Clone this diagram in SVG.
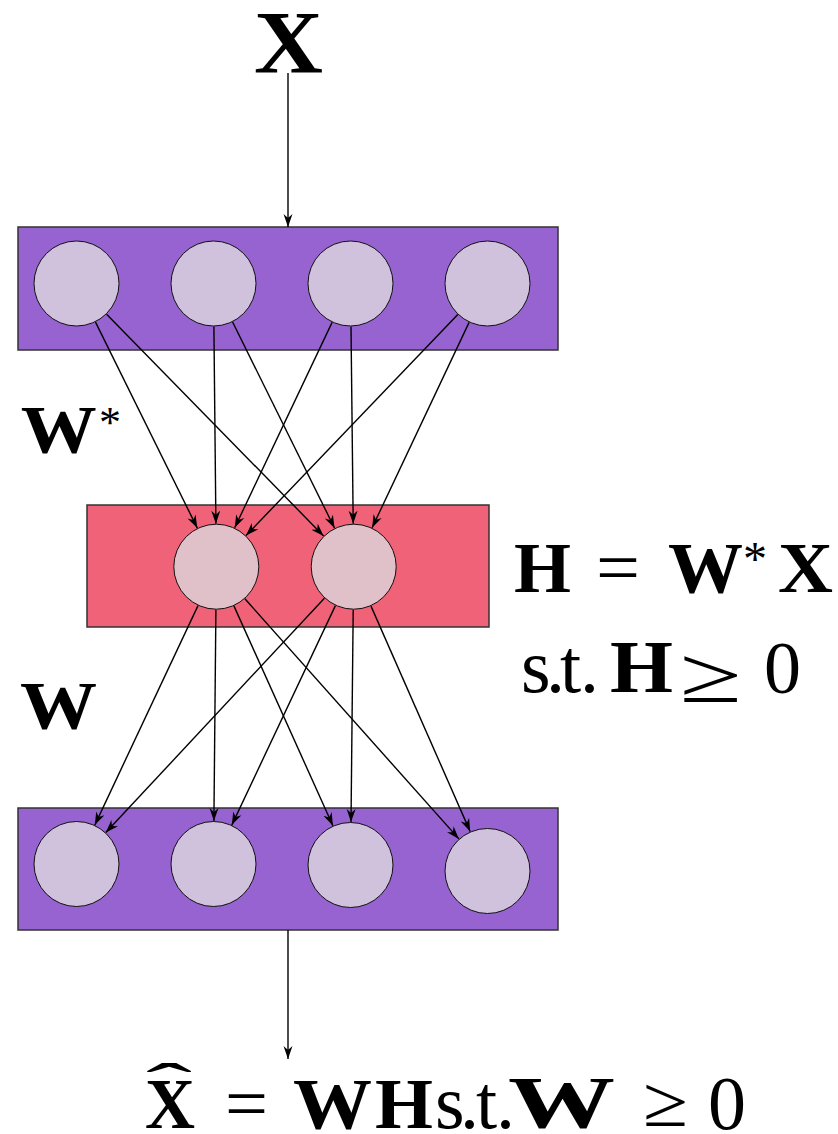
<svg xmlns="http://www.w3.org/2000/svg" width="838" height="1134" viewBox="0 0 838 1134">
<defs>
<marker id="arr" viewBox="0 0 13 10" refX="13" refY="5" markerWidth="13" markerHeight="10" markerUnits="userSpaceOnUse" orient="auto">
<path d="M0,0.5 L13,5 L0,9.5 L4,5 z" fill="#000"/>
</marker>
<style>
.layerP{fill:#9663d0;stroke:#333;stroke-width:1.5}
.layerR{fill:#f06278;stroke:#333;stroke-width:1.5}
.nodeP{fill:#d0c2dc;stroke:#111;stroke-width:1}
.nodeR{fill:#e0c1c9;stroke:#111;stroke-width:1}
.conn line{stroke:#000;stroke-width:1.4;marker-end:url(#arr)}
.b{font-family:"Liberation Serif","DejaVu Serif",serif;font-weight:bold;fill:#000}
.r{font-family:"Liberation Serif","DejaVu Serif",serif;font-weight:normal;fill:#000}
</style>
</defs>
<rect width="838" height="1134" fill="#fff"/>

<g id="layer-input"><rect class="layerP" x="18" y="227" width="540" height="123"/></g>
<g id="layer-hidden"><rect class="layerR" x="87" y="505" width="402" height="122"/></g>
<g id="layer-output"><rect class="layerP" x="18" y="808" width="540" height="122"/></g>

<g id="connectors" class="conn">
<line x1="288" y1="73" x2="288" y2="227"/>
<line x1="95.5" y1="322.1" x2="197.3" y2="528.1"/>
<line x1="106.6" y1="314.2" x2="323.6" y2="536.0"/>
<line x1="213.9" y1="326.5" x2="215.9" y2="523.7"/>
<line x1="232.6" y1="322.0" x2="334.6" y2="528.2"/>
<line x1="332.1" y1="322.4" x2="234.7" y2="527.8"/>
<line x1="351.0" y1="326.5" x2="353.2" y2="523.7"/>
<line x1="457.8" y1="314.6" x2="246.0" y2="535.6"/>
<line x1="469.1" y1="322.4" x2="372.1" y2="527.8"/>
<line x1="198.0" y1="605.6" x2="94.8" y2="825.1"/>
<line x1="215.9" y1="609.7" x2="213.9" y2="821.0"/>
<line x1="233.9" y1="605.9" x2="332.9" y2="825.8"/>
<line x1="244.9" y1="598.8" x2="458.9" y2="838.9"/>
<line x1="324.4" y1="598.2" x2="105.8" y2="832.6"/>
<line x1="335.4" y1="605.6" x2="231.8" y2="825.1"/>
<line x1="353.2" y1="609.7" x2="351.0" y2="822.0"/>
<line x1="371.0" y1="606.1" x2="470.2" y2="831.6"/>
<line x1="288" y1="930" x2="288" y2="1059"/>
</g>

<g id="x1"><circle class="nodeP" cx="76.5" cy="283.5" r="42.5"/></g>
<g id="x2"><circle class="nodeP" cx="213.5" cy="283.5" r="42.5"/></g>
<g id="x3"><circle class="nodeP" cx="350.5" cy="283.5" r="42.5"/></g>
<g id="x4"><circle class="nodeP" cx="487.5" cy="283.5" r="42.5"/></g>
<g id="h1"><circle class="nodeR" cx="216.3" cy="566.7" r="42.5"/></g>
<g id="h2"><circle class="nodeR" cx="353.7" cy="566.7" r="42.5"/></g>
<g id="y1"><circle class="nodeP" cx="76.5" cy="864" r="42.5"/></g>
<g id="y2"><circle class="nodeP" cx="213.5" cy="864" r="42.5"/></g>
<g id="y3"><circle class="nodeP" cx="350.5" cy="865" r="42.5"/></g>
<g id="y4"><circle class="nodeP" cx="487.5" cy="871" r="42.5"/></g>

<g id="labels">
<text class="b" x="254" y="72" font-size="89" textLength="69" lengthAdjust="spacingAndGlyphs">X</text>

<text class="b" x="20.7" y="452" font-size="68" textLength="76" lengthAdjust="spacingAndGlyphs">W</text>
<text class="r" x="99" y="437" font-size="44">*</text>

<text class="b" x="20" y="728" font-size="68" textLength="77" lengthAdjust="spacingAndGlyphs">W</text>

<text class="b" x="514" y="591.7" font-size="71" textLength="57" lengthAdjust="spacingAndGlyphs">H</text>
<text class="r" x="596" y="591.7" font-size="74" textLength="44" lengthAdjust="spacingAndGlyphs">=</text>
<text class="b" x="668" y="591.7" font-size="71" textLength="75" lengthAdjust="spacingAndGlyphs">W</text>
<text class="r" x="743" y="575.4" font-size="48">*</text>
<text class="b" x="778" y="591.7" font-size="71" textLength="55" lengthAdjust="spacingAndGlyphs">X</text>

<text class="r" x="521 546 560 580" y="692" font-size="76">s.t.</text>
<text class="b" x="610" y="692" font-size="73" textLength="63" lengthAdjust="spacingAndGlyphs">H</text>
<text class="r" x="680" y="702" font-size="80" textLength="62" lengthAdjust="spacingAndGlyphs">≥</text>
<text class="r" x="764" y="692.5" font-size="74">0</text>

<text class="r" x="146" y="1104" font-size="60" textLength="46" lengthAdjust="spacingAndGlyphs">ˆ</text>
<text class="b" x="145" y="1128" font-size="72" textLength="50" lengthAdjust="spacingAndGlyphs">X</text>
<text class="r" x="225" y="1128" font-size="74" textLength="43" lengthAdjust="spacingAndGlyphs">=</text>
<text class="b" x="293" y="1128" font-size="72" textLength="79" lengthAdjust="spacingAndGlyphs">W</text>
<text class="b" x="375" y="1128" font-size="72" textLength="58" lengthAdjust="spacingAndGlyphs">H</text>
<text class="r" x="435 460 476 496" y="1128" font-size="76">s.t.</text>
<text class="b" x="508" y="1128" font-size="75" textLength="107" lengthAdjust="spacingAndGlyphs">W</text>
<text class="r" x="643" y="1126" font-size="72" textLength="45" lengthAdjust="spacingAndGlyphs">≥</text>
<text class="r" x="708" y="1129" font-size="76">0</text>
</g>
</svg>
